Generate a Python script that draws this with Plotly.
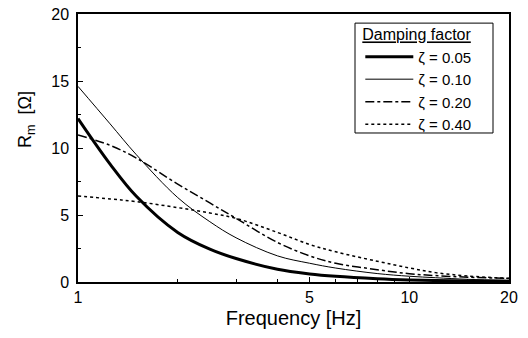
import plotly.graph_objects as go

freq = [1, 1.25, 1.5, 2, 2.5, 3, 4, 5, 6, 8, 10, 12, 15, 20]
r_005 = [12.2, 8.8, 6.4, 3.7, 2.45, 1.75, 0.95, 0.6, 0.42, 0.24, 0.15, 0.11, 0.08, 0.05]
r_010 = [14.6, 11.8, 9.5, 6.3, 4.5, 3.3, 1.95, 1.4, 1.04, 0.63, 0.43, 0.32, 0.2, 0.12]
r_020 = [10.97, 10.2, 9.25, 7.3, 5.9, 4.75, 2.95, 1.95, 1.4, 0.92, 0.62, 0.48, 0.36, 0.28]
r_040 = [6.42, 6.2, 6.0, 5.55, 5.15, 4.75, 3.7, 2.8, 2.25, 1.55, 1.05, 0.7, 0.45, 0.27]
labels = ["ζ = 0.05", "ζ = 0.10", "ζ = 0.20", "ζ = 0.40"]
x_ticks = [1, 5, 10, 20]
x_minor = [2, 3, 4, 6, 7, 8, 9, 15]
y_ticks = [0, 5, 10, 15, 20]
y_minor = [2.5, 7.5, 12.5, 17.5]

styles = [
    dict(width=3, dash="solid"),
    dict(width=1, dash="solid"),
    dict(width=1.5, dash="dashdot"),
    dict(width=1.5, dash="dot"),
]

fig = go.Figure()
for ys, lab, st in zip([r_005, r_010, r_020, r_040], labels, styles):
    fig.add_trace(go.Scatter(x=freq, y=ys, mode="lines", name=lab,
                             line=dict(color="black", shape="spline", smoothing=1.0, **st)))

font = "Liberation Sans, Arial, sans-serif"
fig.update_layout(
    width=528, height=338,
    margin=dict(l=78, r=19, t=14, b=56, autoexpand=False),
    paper_bgcolor="white", plot_bgcolor="white",
    font=dict(family=font, color="black", size=16),
    showlegend=True,
    legend=dict(
        title=dict(text="<u>Damping factor</u>", font=dict(size=16)),
        font=dict(size=15),
        x=0.655, y=0.979, xanchor="left", yanchor="top",
        bgcolor="rgba(255,255,255,0)", borderwidth=0,
        tracegroupgap=0, itemwidth=48,
    ),
    shapes=[dict(type="rect", xref="paper", yref="paper",
                 x0=0.6427, x1=0.9629, y0=0.556, y1=0.966,
                 line=dict(color="black", width=1), fillcolor="white", layer="below")],
    annotations=[dict(text="R<sub>m</sub>  [Ω]", textangle=-90, xref="paper", yref="paper",
                      x=-0.121, y=0.608, xanchor="center", yanchor="middle",
                      showarrow=False, font=dict(size=18))],
    xaxis=dict(
        type="log", range=[0, 1.30103], automargin=False,
        tickvals=x_ticks, ticktext=[str(v) for v in x_ticks],
        ticks="inside", ticklen=5, tickcolor="black",
        minor=dict(tickvals=x_minor, ticks="inside", ticklen=3, tickcolor="black"),
        showline=True, linecolor="black", linewidth=1.5, mirror=True,
        showgrid=False, zeroline=False,
        title=dict(text="Frequency [Hz]", font=dict(size=20), standoff=6),
    ),
    yaxis=dict(
        range=[0, 20], tickvals=y_ticks, automargin=False,
        ticks="inside", ticklen=5, tickcolor="black", ticklabelstandoff=4,
        minor=dict(tickvals=y_minor, ticks="inside", ticklen=3, tickcolor="black"),
        showline=True, linecolor="black", linewidth=1.5, mirror=True,
        showgrid=False, zeroline=False,
    ),
)

fig.write_html("out.html")
